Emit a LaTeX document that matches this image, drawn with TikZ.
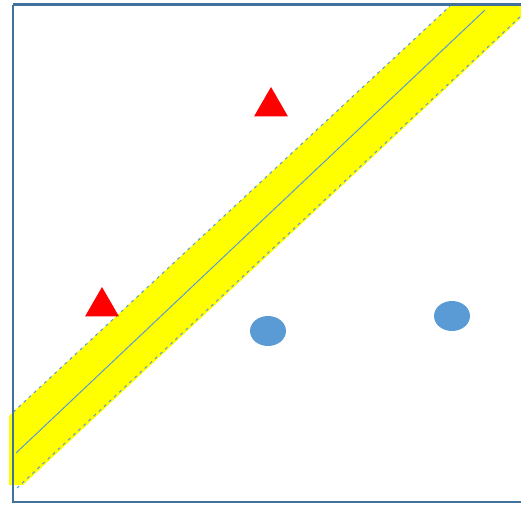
\documentclass[tikz,border=0pt]{standalone}
\usepackage{tikz}
\usetikzlibrary{calc, shapes.geometric}

\definecolor{lineblue}{RGB}{91,155,213}
\definecolor{frameblue}{RGB}{65,113,156}
\definecolor{bandyellow}{RGB}{255,255,0}
\definecolor{markred}{RGB}{255,0,0}

\begin{document}
\begin{tikzpicture}[x=1pt, y=-1pt,
    tri/.style={regular polygon, regular polygon sides=3, fill=markred, inner sep=0pt, minimum size=39pt},
    dot/.style={ellipse, fill=lineblue, inner sep=0pt, minimum width=36pt, minimum height=30pt},
    axis/.style={frameblue, line width=2.6pt},
    margin/.style={lineblue, line width=1pt, dash pattern=on 3pt off 4pt}]
            \useasboundingbox (0,0) rectangle (521,504);
            % top axis line, partly hidden by the band
            \draw[axis] (13,4.5) -- (521,4.5);

            % band corners
            \coordinate (UL) at (9,416);
            \coordinate (UR) at (450,6);
            \coordinate (LR) at (521,18);
            \coordinate (LL) at (23,485);
            \fill[bandyellow] (UL) -- (UR) -- (521,6) -- (LR) -- (LL) -- (9,485) -- cycle;

            % hyperplane and margins
            \coordinate (A) at (16,453);
            \coordinate (B) at (485,10);
            \coordinate (C) at ($(UL)!0.01!(UR)$);
            \coordinate (D) at (UR);
            \coordinate (E) at (17,488);
            \coordinate (F) at (521,16);
            \draw[lineblue, line width=1pt] (A) -- (B);
            \draw[margin] (C) -- (D);
            \draw[margin] (E) -- (F);

            % axes
            \draw[axis] (13,4.5) -- (13,502) -- (521,502);

            % samples
            \node[tri] (t1) at (271,106.5) {};
            \node[tri] (t2) at (102,306.5) {};
            \node[dot] (c1) at (268,331) {};
            \node[dot] (c2) at (452,316) {};
        \end{tikzpicture}
\end{document}
